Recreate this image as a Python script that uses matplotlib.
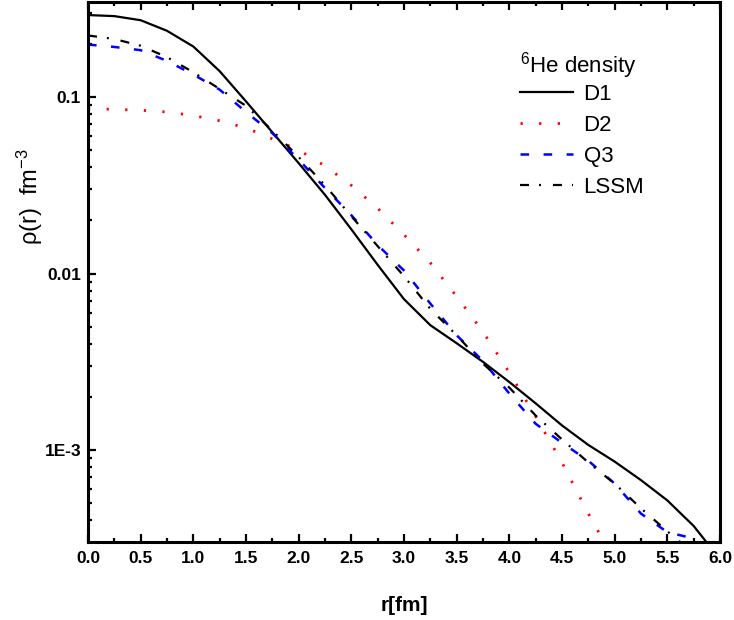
import matplotlib
matplotlib.use("Agg")
import matplotlib.pyplot as plt
import numpy as np
from matplotlib.ticker import FixedLocator, FuncFormatter, MultipleLocator, LogLocator

plt.rcParams['font.family'] = ['Liberation Sans', 'DejaVu Sans']
plt.rcParams['mathtext.fontset'] = 'custom'
plt.rcParams['mathtext.rm'] = 'Liberation Sans'
plt.rcParams['mathtext.it'] = 'Liberation Sans:italic'
plt.rcParams['mathtext.bf'] = 'Liberation Sans:bold'
plt.rcParams['lines.scale_dashes'] = False

# densidades (fm^-3)
r_D1 = [0.0, 0.25, 0.5, 0.75, 1.0, 1.25, 1.5, 1.75, 2.0, 2.25, 2.5, 2.75, 3.0,
        3.25, 3.5, 3.75, 4.0, 4.25, 4.5, 4.75, 5.0, 5.25, 5.5, 5.75, 5.87]
rho_D1 = [0.291, 0.287, 0.272, 0.237, 0.193, 0.140, 0.0944, 0.0631, 0.0422,
          0.0279, 0.0178, 0.0112, 0.00716, 0.00510, 0.00403, 0.00316, 0.00243,
          0.00184, 0.00138, 0.00107, 0.000861, 0.000676, 0.000519, 0.000372,
          0.000302]

r_D2 = [0.0, 0.25, 0.5, 0.75, 1.0, 1.25, 1.5, 1.75, 2.0, 2.25, 2.5, 2.75, 3.0,
        3.25, 3.5, 3.75, 4.0, 4.25, 4.5, 4.75, 4.9]
rho_D2 = [0.0859, 0.0851, 0.0841, 0.0822, 0.0785, 0.0733, 0.0668, 0.0579,
          0.0501, 0.0407, 0.0316, 0.0234, 0.0166, 0.0115, 0.00741, 0.00468,
          0.00275, 0.00155, 0.000851, 0.000437, 0.000302]

r_Q3 = [0.0, 0.25, 0.5, 0.75, 1.0, 1.25, 1.5, 1.75, 2.0, 2.25, 2.5, 2.75, 3.0,
        3.25, 3.5, 3.75, 4.0, 4.25, 4.5, 4.75, 5.0, 5.25, 5.5, 5.75, 5.8]
rho_Q3 = [0.198, 0.192, 0.184, 0.160, 0.134, 0.110, 0.0822, 0.0624, 0.0442,
          0.0305, 0.0214, 0.0145, 0.0104, 0.00676, 0.00447, 0.00320, 0.00209,
          0.00141, 0.00110, 0.000871, 0.000646, 0.000437, 0.000343, 0.000316,
          0.000295]

r_LSSM = [0.0, 0.25, 0.5, 0.75, 1.0, 1.25, 1.5, 1.75, 2.0, 2.25, 2.5, 2.75,
          3.0, 3.25, 3.5, 3.75, 4.0, 4.25, 4.5, 4.75, 5.0, 5.25, 5.5, 5.62]
rho_LSSM = [0.223, 0.213, 0.195, 0.168, 0.138, 0.111, 0.0891, 0.0646, 0.0457,
            0.0316, 0.0211, 0.0143, 0.00966, 0.00631, 0.00447, 0.00309,
            0.00226, 0.00157, 0.00115, 0.000851, 0.000646, 0.000468,
            0.000347, 0.000302]

y_tick_vals = [1e-3, 1e-2, 1e-1]
y_tick_labels = ['1E-3', '0.01', '0.1']

fig = plt.figure(figsize=(7.34, 6.2), dpi=100)
ax = fig.add_axes([88 / 734, 1 - 541.7 / 620, 632 / 734, 539.7 / 620])

ax.plot(r_D1, rho_D1, '-', color='black', lw=1.6, label='D1')
ax.plot(r_D2, rho_D2, color='red', lw=2.0, dashes=(1.6, 11.8), label='D2')
ax.plot(r_Q3, rho_Q3, color='blue', lw=1.8, dashes=(6.2, 10.4), label='Q3')
ax.plot(r_LSSM, rho_LSSM, color='black', lw=1.6,
        dashes=(6.5, 7.2, 1.4, 8.6), label='LSSM')

ax.set_yscale('log')
ax.set_xlim(0, 6)
ax.set_ylim(3.03e-4, 0.345)

ax.xaxis.set_major_locator(MultipleLocator(0.5))
ax.xaxis.set_minor_locator(MultipleLocator(0.25))
ax.xaxis.set_major_formatter(FuncFormatter(lambda v, p: f'{v:.1f}'))
ax.yaxis.set_major_locator(FixedLocator(y_tick_vals))
ax.yaxis.set_major_formatter(FuncFormatter(
    lambda v, p: dict(zip(y_tick_vals, y_tick_labels)).get(v, '')))
ax.yaxis.set_minor_locator(LogLocator(base=10, subs=np.arange(2, 10)))
ax.yaxis.set_minor_formatter(FuncFormatter(lambda v, p: ''))

for s in ax.spines.values():
    s.set_linewidth(2.2)
ax.tick_params(which='both', direction='in', top=True, right=False, width=1.6)
ax.tick_params(which='major', length=6)
ax.tick_params(which='minor', length=3)
ax.tick_params(axis='x', which='major', pad=7)
ax.tick_params(axis='y', which='major', pad=5)
for lab in ax.get_xticklabels() + ax.get_yticklabels():
    lab.set_fontsize(12.5)
    lab.set_fontweight('bold')

ax.set_xlabel('r[fm]', fontsize=15, fontweight='bold')
ax.xaxis.set_label_coords(0.5, -0.1)
ax.set_ylabel(r'ρ(r)  fm$\mathregular{^{-3}}$', fontsize=17)
ax.yaxis.set_label_coords(-0.068, 0.64)

# titulo de la leyenda aparte, para controlar el espaciado
ax.text(0.684, 0.883, r'$\mathregular{^6}$He density', fontsize=16,
        transform=ax.transAxes, ha='left', va='center')
ax.legend(loc='upper left', bbox_to_anchor=(0.684, 0.848), frameon=False,
          fontsize=16, handlelength=2.35, handletextpad=0.5,
          labelspacing=0.45, borderpad=0, borderaxespad=0)

fig.savefig('out.png', dpi=100)
